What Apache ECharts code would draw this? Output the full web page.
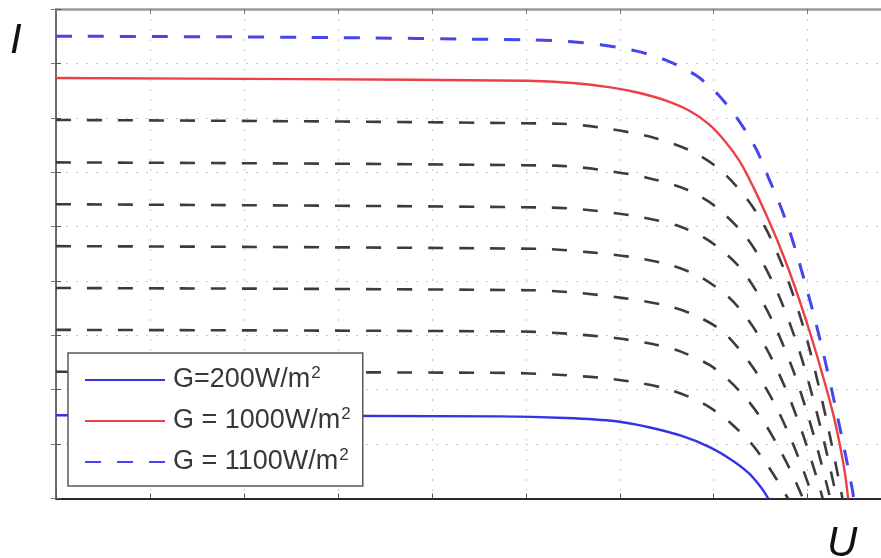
<!DOCTYPE html>
<html>
<head>
<meta charset="utf-8">
<script src="https://cdn.jsdelivr.net/npm/echarts@6/dist/echarts.min.js"></script>
<style>
  html, body { margin: 0; padding: 0; background: #fff; }
  #chart { width: 881px; height: 558px; }
</style>
</head>
<body>
<div id="chart"></div>
<script>
// I-U characteristics of a PV module for several irradiance levels G (W/m²)
// Voltage U and current I are given in axis-grid divisions (no tick labels are shown).

// G = 200 W/m²
const u200 = [0, 4.72, 5.43, 5.96, 6.31, 6.66, 6.95, 7.19, 7.37, 7.51, 7.58];
const i200 = [1.53, 1.51, 1.48, 1.42, 1.31, 1.15, 0.95, 0.71, 0.47, 0.19, 0];

// G = 300 … 900 W/m² (dashed family)
const u300 = [0, 4.79, 5.29, 5.79, 6.19, 6.49, 6.79, 6.99, 7.19, 7.39, 7.54, 7.67, 7.79];
const i300 = [2.33, 2.31, 2.28, 2.22, 2.13, 2.02, 1.83, 1.64, 1.37, 1.03, 0.69, 0.35, 0];
const u400 = [0, 4.95, 5.45, 5.95, 6.35, 6.65, 6.95, 7.15, 7.35, 7.55, 7.70, 7.83, 7.95];
const i400 = [3.10, 3.07, 3.03, 2.95, 2.84, 2.70, 2.46, 2.19, 1.83, 1.36, 0.91, 0.47, 0];
const u500 = [0, 5.06, 5.56, 6.06, 6.46, 6.76, 7.06, 7.26, 7.46, 7.66, 7.81, 7.94, 8.06];
const i500 = [3.87, 3.83, 3.78, 3.68, 3.56, 3.40, 3.12, 2.77, 2.30, 1.70, 1.14, 0.58, 0];
const u600 = [0, 5.16, 5.66, 6.16, 6.56, 6.86, 7.16, 7.36, 7.56, 7.76, 7.91, 8.04, 8.16];
const i600 = [4.64, 4.59, 4.53, 4.43, 4.28, 4.07, 3.70, 3.30, 2.76, 2.04, 1.37, 0.70, 0];
const u700 = [0, 5.24, 5.74, 6.24, 6.64, 6.94, 7.24, 7.44, 7.64, 7.84, 7.99, 8.12, 8.24];
const i700 = [5.41, 5.35, 5.29, 5.17, 5.00, 4.75, 4.32, 3.85, 3.21, 2.38, 1.60, 0.81, 0];
const u800 = [0, 5.31, 5.81, 6.31, 6.71, 7.01, 7.31, 7.51, 7.71, 7.91, 8.06, 8.19, 8.31];
const i800 = [6.18, 6.12, 6.04, 5.89, 5.68, 5.38, 4.88, 4.37, 3.66, 2.72, 1.82, 0.93, 0];
const u900 = [0, 5.37, 5.87, 6.37, 6.77, 7.07, 7.37, 7.57, 7.77, 7.97, 8.12, 8.25, 8.37];
const i900 = [6.96, 6.89, 6.80, 6.63, 6.38, 6.04, 5.47, 4.91, 4.11, 3.06, 2.05, 1.04, 0];

// G = 1000 W/m²
const u1000 = [0, 2.59, 5.01, 5.50, 5.90, 6.20, 6.50, 6.75, 6.95, 7.12, 7.28, 7.42, 7.55, 7.68, 7.81, 7.94, 8.06, 8.17, 8.27, 8.35, 8.40, 8.43];
const i1000 = [7.73, 7.71, 7.68, 7.64, 7.56, 7.46, 7.31, 7.12, 6.88, 6.57, 6.19, 5.73, 5.25, 4.73, 4.15, 3.50, 2.85, 2.20, 1.56, 0.92, 0.42, 0];

// G = 1100 W/m²
const u1100 = [0, 2.59, 5.07, 5.49, 5.81, 6.17, 6.49, 6.81, 7.05, 7.27, 7.45, 7.58, 7.70, 7.81, 7.92, 8.03, 8.12, 8.20, 8.27, 8.34, 8.41, 8.47, 8.49];
const i1100 = [8.50, 8.48, 8.43, 8.40, 8.34, 8.23, 8.06, 7.78, 7.42, 6.94, 6.43, 5.91, 5.42, 4.90, 4.28, 3.60, 3.00, 2.42, 1.88, 1.32, 0.74, 0.21, 0];

// axis extents (in grid divisions)
const uMax = 8.78;
const iMax = 9;

const legendNames = ['G=200W/m²', 'G = 1000W/m²', 'G = 1100W/m²'];

function pairs(u, i) { return u.map((v, k) => [v, i[k]]); }

const dashedFamily = [
  ['G=300W/m²', u300, i300],
  ['G=400W/m²', u400, i400],
  ['G=500W/m²', u500, i500],
  ['G=600W/m²', u600, i600],
  ['G=700W/m²', u700, i700],
  ['G=800W/m²', u800, i800],
  ['G=900W/m²', u900, i900]
];

function curve(name, u, i, color, width, type) {
  return {
    type: 'line',
    name: name,
    data: pairs(u, i),
    showSymbol: false,
    symbol: 'none',
    smooth: 0.3,
    silent: true,
    itemStyle: { color: color },
    lineStyle: { color: color, width: width, type: type }
  };
}

const series = dashedFamily.map(([name, u, i]) => curve(name, u, i, '#3c3c3c', 2.6, [15, 16]));
series.push(curve(legendNames[0], u200, i200, '#3434e6', 2.4, 'solid'));
series.push(curve(legendNames[1], u1000, i1000, '#ec4048', 2.4, 'solid'));
series.push(curve(legendNames[2], u1100, i1100, '#4646ee', 3, [16, 16]));

const gridLine = { show: true, lineStyle: { color: '#c8c8c8', width: 1, type: [2, 8] } };
const hiddenLabel = { show: false };

const option = {
  animation: false,
  backgroundColor: '#ffffff',
  grid: { left: 56, top: 9, width: 827, height: 489.5, containLabel: false },
  xAxis: [
    {
      type: 'value', position: 'bottom', min: 0, max: uMax, interval: 1,
      axisLine: { show: true, lineStyle: { color: '#2a2a2a', width: 2 } },
      axisTick: { show: true, inside: true, length: 5, lineStyle: { color: '#555', width: 1 } },
      axisLabel: hiddenLabel,
      splitLine: gridLine
    },
    {
      type: 'value', position: 'top', min: 0, max: uMax, interval: 1,
      axisLine: { show: true, onZero: false, lineStyle: { color: '#9a9a9a', width: 2.5 } },
      axisTick: { show: true, inside: true, length: 5, lineStyle: { color: '#777', width: 1 } },
      axisLabel: hiddenLabel,
      splitLine: { show: false }
    }
  ],
  yAxis: [
    {
      type: 'value', position: 'left', min: 0, max: iMax, interval: 1,
      axisLine: { show: true, onZero: false, lineStyle: { color: '#3a3a3a', width: 1.5 } },
      axisTick: { show: true, inside: true, length: 5, lineStyle: { color: '#555', width: 1 } },
      axisLabel: hiddenLabel,
      splitLine: gridLine
    },
    {
      type: 'value', position: 'right', min: 0, max: iMax, interval: 1,
      axisLine: { show: false },
      axisTick: { show: true, inside: true, length: 5, lineStyle: { color: '#777', width: 1 } },
      axisLabel: hiddenLabel,
      splitLine: { show: false }
    }
  ],
  legend: {
    data: legendNames,
    orient: 'vertical',
    left: 68,
    top: 353,
    padding: [12, 12, 9, 16],
    itemWidth: 80,
    itemHeight: 30,
    itemGap: 11,
    backgroundColor: '#ffffff',
    borderColor: '#5a5a5a',
    borderWidth: 1.5,
    borderRadius: 0,
    selectedMode: false,
    itemStyle: { opacity: 0 },
    formatter: function (name) {
      return '{t|' + name.replace('²', '') + '}{s|2}';
    },
    textStyle: {
      fontFamily: 'Liberation Sans, Arial, sans-serif',
      color: '#383838',
      lineHeight: 30,
      padding: [0, 0, 0, 3],
      rich: {
        t: { fontSize: 27, lineHeight: 30, color: '#383838', fontFamily: 'Liberation Sans, Arial, sans-serif' },
        s: { fontSize: 17, lineHeight: 17, verticalAlign: 'top', color: '#383838', fontFamily: 'Liberation Sans, Arial, sans-serif', padding: [0, 0, 0, 1] }
      }
    }
  },
  graphic: [
    {
      type: 'text', left: 10, top: 20, silent: true,
      style: { text: 'I', fill: '#111', font: 'italic 42px "Liberation Sans", Arial, sans-serif' }
    },
    {
      type: 'text', left: 827, top: 523, silent: true,
      style: { text: 'U', fill: '#111', font: 'italic 42px "Liberation Sans", Arial, sans-serif' }
    }
  ],
  series: series
};

const chart = echarts.init(document.getElementById('chart'), null, { renderer: 'canvas' });
chart.setOption(option);
</script>
</body>
</html>
